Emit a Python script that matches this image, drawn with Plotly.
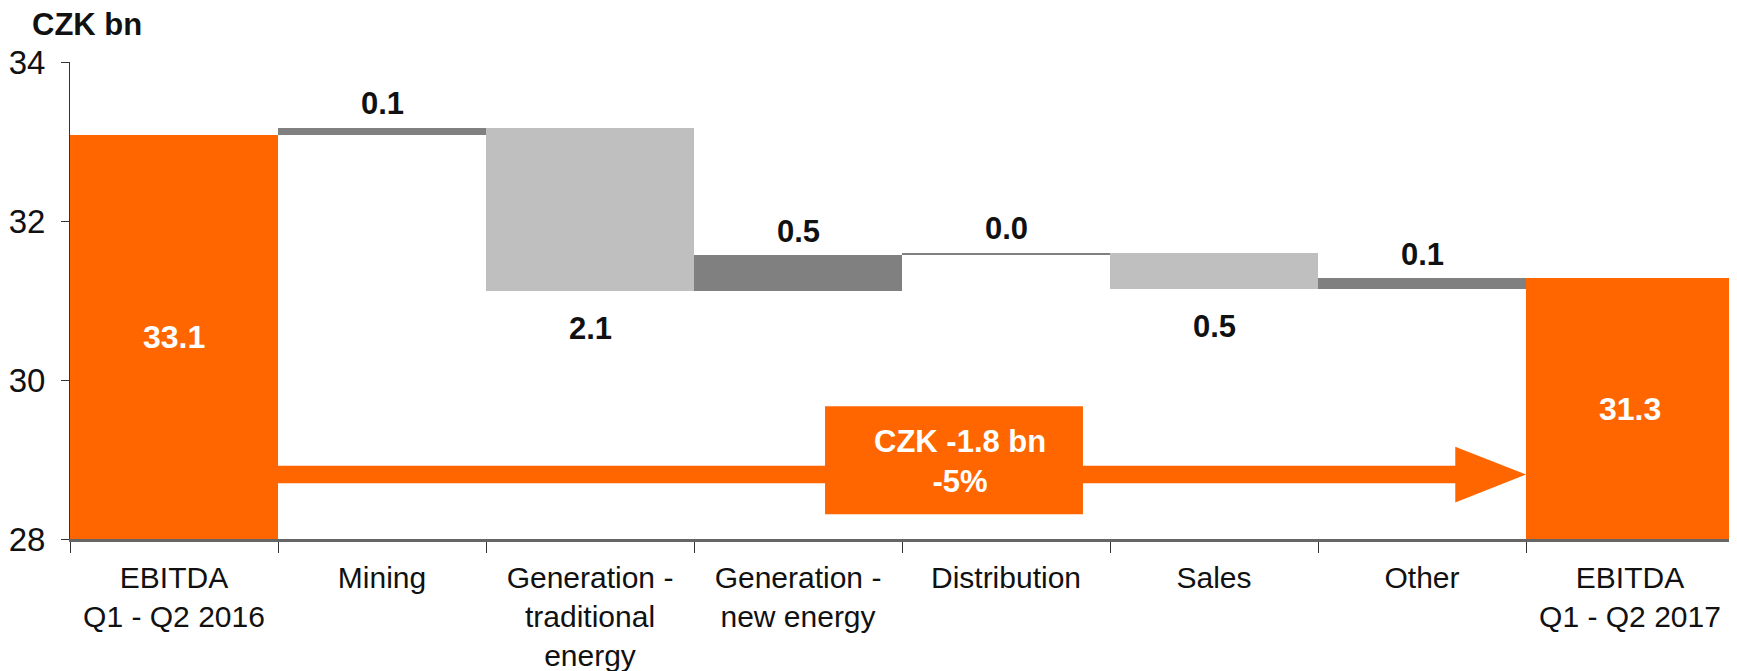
import plotly.graph_objects as go

# waterfall data (CZK bn)
categories = ["EBITDA<br>Q1 - Q2 2016", "Mining", "Generation -<br>traditional<br>energy",
              "Generation -<br>new energy", "Distribution", "Sales", "Other",
              "EBITDA<br>Q1 - Q2 2017"]
measures = ["absolute", "relative", "relative", "relative", "relative", "relative", "relative", "total"]
values = [33.08, 0.09, -2.05, 0.45, 0.03, -0.45, 0.13, 0]
value_labels = ["33.1", "0.1", "2.1", "0.5", "0.0", "0.5", "0.1", "31.3"]
delta_text = "CZK -1.8 bn<br>-5%"
y_ticks = [28, 30, 32, 34]

ORANGE = "#FF6600"
DARK = "#808080"
LIGHT = "#BFBFBF"
FONT = "Arial, Liberation Sans, sans-serif"
y_min, y_max = 28, 34

fig = go.Figure(go.Waterfall(
    x=categories, y=values, measure=measures,
    width=[1] * len(categories),
    increasing=dict(marker=dict(color=DARK)),
    decreasing=dict(marker=dict(color=LIGHT)),
    totals=dict(marker=dict(color=ORANGE)),
    connector=dict(visible=False),
    hoverinfo="skip",
))

# value labels
annotations = []
running = 0
for i, (m, v, lab) in enumerate(zip(measures, values, value_labels)):
    if m in ("absolute", "total"):
        if m == "absolute":
            running = v
        annotations.append(dict(x=i, y=(y_min + running) / 2, text=lab, showarrow=False,
                                font=dict(color="white", size=32, family=FONT, weight="bold")))
    else:
        running += v
        if v >= 0:
            annotations.append(dict(x=i, y=running, text=lab, showarrow=False, yshift=24,
                                    font=dict(color="#111", size=31, family=FONT, weight="bold")))
        else:
            annotations.append(dict(x=i, y=running, text=lab, showarrow=False, yshift=-38,
                                    font=dict(color="#111", size=31, family=FONT, weight="bold")))

# change arrow from first to last bar
arrow_y = 28.81
shaft = 0.11
head = 0.35
tip_x = len(categories) - 1.5
base_x = tip_x - 0.34
fig.add_shape(type="path",
              path=(f"M 0.5,{arrow_y - shaft} L {base_x},{arrow_y - shaft} L {base_x},{arrow_y - head} "
                    f"L {tip_x},{arrow_y} L {base_x},{arrow_y + head} L {base_x},{arrow_y + shaft} "
                    f"L 0.5,{arrow_y + shaft} Z"),
              xref="x", yref="y", fillcolor=ORANGE, line=dict(width=0))
fig.add_shape(type="rect", xref="x", yref="y", x0=3.13, x1=4.37, y0=28.31, y1=29.67,
              fillcolor=ORANGE, line=dict(width=0))
annotations.append(dict(x=3.78, y=28.98, xref="x", yref="y", text=delta_text, showarrow=False,
                        font=dict(color="white", size=31, family=FONT, weight="bold")))

annotations.append(dict(xref="paper", yref="paper", x=0, y=1, xshift=-40, yshift=38,
                        xanchor="left", yanchor="middle", text="CZK bn", showarrow=False,
                        font=dict(color="#111", size=31, family=FONT, weight="bold")))

# the page body adds an 8px offset; margins are set so the plot area lands where the original's does
fig.update_layout(
    width=1737, height=671,
    margin=dict(l=62, r=11, t=54, b=140),
    plot_bgcolor="white", paper_bgcolor="white",
    waterfallgap=0,
    showlegend=False,
    font=dict(family=FONT, size=30, color="#111"),
    annotations=annotations,
    xaxis=dict(type="category", range=[-0.5, len(categories) - 0.5], tickson="boundaries",
               ticks="outside", ticklen=11, tickcolor="#333", tickwidth=1,
               showline=True, linecolor="#666", linewidth=3, showgrid=False, automargin=False,
               tickfont=dict(size=30, color="#111"), ticklabelstandoff=10),
    yaxis=dict(range=[y_min, y_max], tickvals=y_ticks, ticks="outside", ticklen=8,
               tickcolor="#333", showline=True, linecolor="#333", linewidth=1, automargin=False,
               showgrid=False, zeroline=False, tickfont=dict(size=33, color="#111"),
               ticklabelstandoff=9),
)

fig.write_html("out.html")
